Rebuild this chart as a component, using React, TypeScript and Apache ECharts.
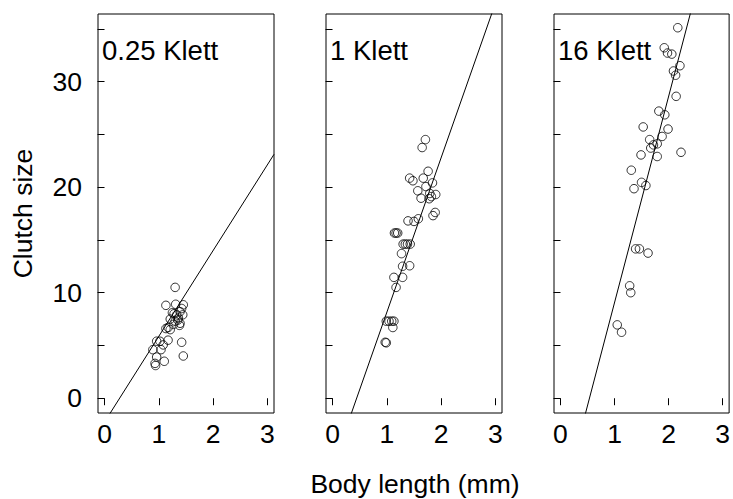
import React, { useEffect, useRef } from "react";
import * as echarts from "echarts";

const panelLabels = ["0.25 Klett", "1 Klett", "16 Klett"];
const xTicks = [0, 1, 2, 3];
const yTicks = [0, 5, 10, 15, 20, 25, 30, 35];
const yLabels = [0, 10, 20, 30];
const xRange = [-0.12, 3.12];
const yRange = [-1.4, 36.4];

const p1X = [1.30, 1.13, 1.31, 1.45, 1.25, 1.39, 1.33, 1.44, 1.36, 1.21, 1.30, 1.39, 1.38, 1.17, 1.13, 1.21, 1.17, 1.42, 0.96, 1.02, 1.08, 0.89, 1.04, 0.96, 1.45, 1.10, 0.93, 0.94, 1.28, 1.42, 1.35, 1.27];
const p1Y = [10.5, 8.8, 8.9, 8.85, 8.1, 8.2, 7.9, 7.9, 7.6, 7.5, 7.3, 7.1, 6.9, 6.7, 6.6, 6.5, 5.5, 5.3, 5.4, 5.4, 5.05, 4.6, 4.6, 3.9, 4.0, 3.5, 3.3, 3.1, 8.0, 8.5, 7.4, 7.0];

const p2X = [1.71, 1.65, 1.76, 1.42, 1.48, 1.67, 1.84, 1.72, 1.57, 1.79, 1.90, 1.82, 1.63, 1.78, 1.89, 1.85, 1.39, 1.50, 1.58, 1.14, 1.17, 1.20, 1.30, 1.34, 1.38, 1.43, 1.27, 1.29, 1.42, 1.13, 1.29, 1.17, 0.99, 1.04, 1.09, 1.13, 1.11, 0.97, 0.99];
const p2Y = [24.5, 23.75, 21.5, 20.85, 20.6, 20.85, 20.4, 20.05, 19.65, 19.4, 19.3, 19.1, 18.95, 18.9, 17.6, 17.3, 16.8, 16.75, 17.0, 15.65, 15.65, 15.65, 14.6, 14.6, 14.6, 14.6, 13.7, 12.5, 12.55, 11.45, 11.45, 10.5, 7.3, 7.3, 7.3, 7.3, 6.7, 5.3, 5.25];

const p3X = [2.17, 1.92, 1.98, 2.06, 2.21, 2.09, 2.13, 2.14, 1.82, 1.93, 1.53, 1.99, 1.88, 1.65, 1.79, 1.72, 1.67, 2.23, 1.49, 1.79, 1.31, 1.50, 1.58, 1.36, 1.39, 1.46, 1.62, 1.28, 1.30, 1.05, 1.13];
const p3Y = [35.1, 33.2, 32.7, 32.6, 31.5, 31.0, 30.6, 28.6, 27.2, 26.85, 25.7, 25.5, 24.8, 24.5, 24.1, 24.0, 23.7, 23.3, 23.05, 22.9, 21.6, 20.45, 20.15, 19.85, 14.15, 14.15, 13.75, 10.65, 10.0, 6.95, 6.25];

const fitIntercepts = [-2.26, -6.51, -10.46];
const fitSlopes = [8.13, 14.65, 19.52];

const panelXs = [p1X, p2X, p3X];
const panelYs = [p1Y, p2Y, p3Y];

const FONT = "Liberation Sans, Arial, sans-serif";
const FS = 26.5;

export default function App() {
  const ref = useRef<HTMLDivElement>(null);
  useEffect(() => {
    document.body.style.margin = "0";
    const chart = echarts.init(ref.current!, null, { renderer: "svg" });
    const lefts = [98, 326, 554];
    const grids = lefts.map((l) => ({
      left: l,
      top: 14,
      width: 176,
      height: 399,
      show: true,
      borderColor: "#000",
      borderWidth: 1,
      backgroundColor: "transparent",
    }));
    const xAxes = lefts.map((_, i) => ({
      type: "value",
      gridIndex: i,
      min: xRange[0],
      max: xRange[1],
      axisLine: { show: false },
      splitLine: { show: false },
      axisTick: { show: true, length: 7, inside: false, customValues: xTicks, lineStyle: { color: "#000" } },
      axisLabel: { show: true, customValues: xTicks, margin: 7, color: "#000", fontSize: FS, fontFamily: FONT },
    }));
    const yAxes = lefts.map((_, i) => ({
      type: "value",
      gridIndex: i,
      min: yRange[0],
      max: yRange[1],
      axisLine: { show: false },
      splitLine: { show: false },
      axisTick: { show: true, length: 7, inside: false, customValues: yTicks, lineStyle: { color: "#000" } },
      axisLabel: { show: i === 0, customValues: yLabels, margin: 16, color: "#000", fontSize: FS, fontFamily: FONT },
    }));
    const series: any[] = [];
    for (let i = 0; i < 3; i++) {
      series.push({
        type: "scatter",
        xAxisIndex: i,
        yAxisIndex: i,
        symbol: "circle",
        symbolSize: 8.5,
        itemStyle: { color: "rgba(0,0,0,0)", borderColor: "#000", borderWidth: 1 },
        data: panelXs[i].map((x, j) => [x, panelYs[i][j]]),
      });
      series.push({
        type: "line",
        xAxisIndex: i,
        yAxisIndex: i,
        showSymbol: false,
        clip: true,
        lineStyle: { color: "#000", width: 1 },
        data: xRange.map((x) => [x, fitIntercepts[i] + fitSlopes[i] * x]),
      });
    }
    chart.setOption({
      animation: false,
      backgroundColor: "#fff",
      grid: grids,
      xAxis: xAxes,
      yAxis: yAxes,
      series,
      graphic: [
        ...panelLabels.map((t, i) => ({
          type: "text",
          x: lefts[i] + 4,
          y: 50,
          style: { text: t, fontSize: 27.5, fontFamily: FONT, fill: "#000", textVerticalAlign: "middle" },
        })),
        {
          type: "text",
          x: 22.5,
          y: 213.5,
          rotation: Math.PI / 2,
          style: { text: "Clutch size", fontSize: FS, fontFamily: FONT, fill: "#000", textAlign: "center", textVerticalAlign: "middle" },
        },
        {
          type: "text",
          x: 415,
          y: 483.5,
          style: { text: "Body length (mm)", fontSize: FS, fontFamily: FONT, fill: "#000", textAlign: "center", textVerticalAlign: "middle" },
        },
      ],
    });
    return () => chart.dispose();
  }, []);
  return <div ref={ref} style={{ width: 733, height: 499 }} />;
}
